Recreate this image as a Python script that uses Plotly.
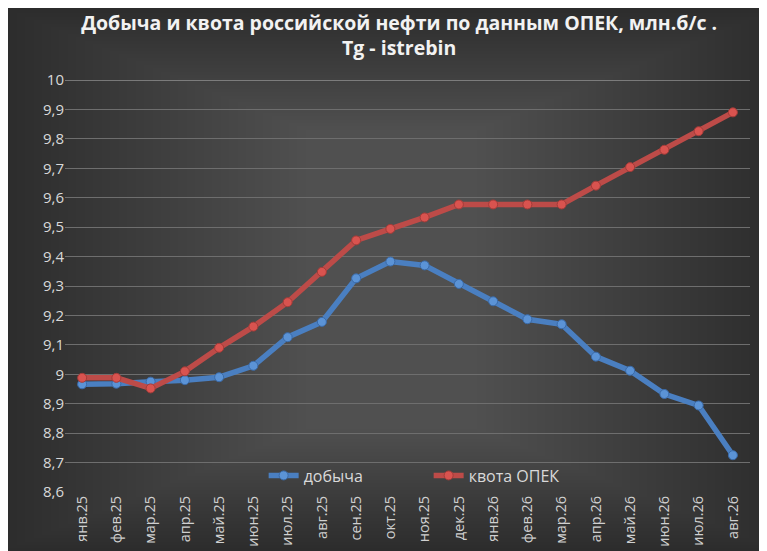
import plotly.graph_objects as go

months = ["янв.25", "фев.25", "мар.25", "апр.25", "май.25", "июн.25", "июл.25", "авг.25",
          "сен.25", "окт.25", "ноя.25", "дек.25", "янв.26", "фев.26", "мар.26", "апр.26",
          "май.26", "июн.26", "июл.26", "авг.26"]
production = [8.966, 8.968, 8.975, 8.980, 8.990, 9.029, 9.126, 9.178, 9.326, 9.383,
              9.370, 9.307, 9.248, 9.187, 9.170, 9.060, 9.012, 8.933, 8.894, 8.725]
quota = [8.988, 8.988, 8.952, 9.010, 9.090, 9.162, 9.245, 9.348, 9.455, 9.494,
         9.533, 9.577, 9.577, 9.577, 9.577, 9.641, 9.704, 9.763, 9.826, 9.890]
y_ticks = [8.6, 8.7, 8.8, 8.9, 9.0, 9.1, 9.2, 9.3, 9.4, 9.5, 9.6, 9.7, 9.8, 9.9, 10.0]

FONT = "Open Sans"
W, H = 767, 551
ML, MR, MT, MB = 57, 25, 72, 58
PW, PH = W - ML - MR, H - MT - MB

fig = go.Figure()
fig.add_trace(go.Scatter(
    x=months, y=production, name="добыча", mode="lines+markers",
    line=dict(color="#4a7fc1", width=5.5),
    marker=dict(size=9, color="#5b93d6", line=dict(color="#3a6aa8", width=1)),
))
fig.add_trace(go.Scatter(
    x=months, y=quota, name="квота ОПЕК", mode="lines+markers",
    line=dict(color="#bd4b48", width=5.5),
    marker=dict(size=9, color="#d9534f", line=dict(color="#a33b38", width=1)),
))

# smooth vignette background (lighter centre, darker edges)
shapes = []
n = 36
for i in range(n):
    inset_x = i * 8.5
    inset_y = i * 3.5
    shapes.append(dict(type="rect", xref="paper", yref="paper",
                       x0=(inset_x - ML) / PW, x1=(W - inset_x - ML) / PW,
                       y0=(inset_y - MB) / PH, y1=(H - inset_y - MB) / PH,
                       layer="below", line=dict(width=0),
                       fillcolor="rgba(255,255,255,0.0065)"))
# brighter top gridline, as in the reference
shapes.append(dict(type="line", xref="paper", yref="y", x0=0, x1=1,
                   y0=y_ticks[-1], y1=y_ticks[-1], layer="below",
                   line=dict(color="#b8b8b8", width=1)))

fig.update_layout(
    width=W, height=H,
    margin=dict(l=ML, r=MR, t=MT, b=MB),
    paper_bgcolor="#2c2c2c",
    plot_bgcolor="rgba(0,0,0,0)",
    separators=", ",
    shapes=shapes,
    title=dict(
        text="Добыча и квота российской нефти по данным ОПЕК, млн.б/с .<br>Tg - istrebin",
        x=0.51, xanchor="center", y=0.96, yanchor="middle",
        font=dict(family=FONT, size=19.5, color="#f2f2f2", weight="bold"),
    ),
    xaxis=dict(
        type="category", range=[-0.5, 19.5], showgrid=False, zeroline=False,
        tickangle=-90, ticks="", showline=False,
        tickfont=dict(family=FONT, size=14.5, color="#d0d0d0"),
    ),
    yaxis=dict(
        range=[8.6, 10.0], tickvals=y_ticks, showgrid=True, gridcolor="#6e6e6e",
        gridwidth=1, zeroline=False, showline=False, ticks="",
        tickfont=dict(family=FONT, size=15, color="#d9d9d9"),
        tickformat="~r",
    ),
    legend=dict(
        orientation="h", x=0.29, xanchor="left", y=0.04, yanchor="middle",
        bgcolor="rgba(0,0,0,0)", entrywidth=120, entrywidthmode="pixels",
        font=dict(family=FONT, size=16, color="#d9d9d9"),
    ),
    showlegend=True,
)

fig.write_html("out.html")
